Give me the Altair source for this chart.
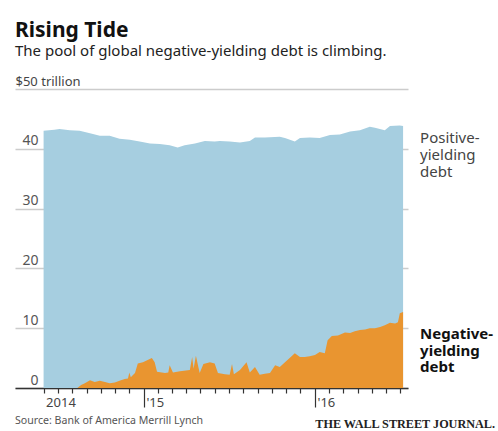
import altair as alt
import pandas as pd

# ---- data (trillions of dollars) ----
total_dates = ["2014-06-01", "2014-06-24", "2014-07-05", "2014-07-27", "2014-08-17",
               "2014-09-08", "2014-09-29", "2014-10-20", "2014-11-10", "2014-12-02",
               "2014-12-23", "2015-01-14", "2015-02-04", "2015-02-25", "2015-03-14",
               "2015-03-29", "2015-04-20", "2015-05-11", "2015-06-01", "2015-06-12",
               "2015-07-03", "2015-07-25", "2015-08-15", "2015-08-26", "2015-09-16",
               "2015-10-18", "2015-10-29", "2015-11-19", "2015-11-30", "2015-12-21",
               "2016-01-11", "2016-02-02", "2016-02-23", "2016-03-16", "2016-04-06",
               "2016-04-27", "2016-05-08", "2016-05-29", "2016-06-09", "2016-06-30",
               "2016-07-07"]
total_values = [43.0, 43.2, 43.3, 43.1, 43.0,
                42.6, 42.2, 42.2, 41.7, 41.5,
                41.2, 40.9, 40.8, 40.6, 40.2,
                40.6, 40.9, 41.3, 41.2, 41.3,
                41.2, 41.05, 41.3, 41.9, 41.9,
                42.0, 41.8, 41.2, 41.8, 41.9,
                41.8, 42.3, 42.4, 42.9, 43.1,
                43.7, 43.5, 43.1, 43.8, 43.9,
                43.8]

neg_dates = ["2014-06-01", "2014-08-12", "2014-08-20", "2014-08-28", "2014-09-08",
             "2014-09-18", "2014-09-29", "2014-10-10", "2014-10-20", "2014-10-31",
             "2014-11-10", "2014-11-21", "2014-11-28", "2014-12-01", "2014-12-04",
             "2014-12-13", "2014-12-19", "2014-12-30", "2015-01-09", "2015-01-18",
             "2015-01-24", "2015-01-29", "2015-02-15", "2015-02-22", "2015-02-25",
             "2015-03-04", "2015-03-19", "2015-04-09", "2015-04-14", "2015-04-17",
             "2015-04-22", "2015-04-30", "2015-05-08", "2015-05-22", "2015-06-01",
             "2015-06-08", "2015-06-23", "2015-07-03", "2015-07-08", "2015-07-12",
             "2015-07-25", "2015-08-08", "2015-08-15", "2015-08-26", "2015-09-05",
             "2015-09-16", "2015-09-27", "2015-10-08", "2015-10-18", "2015-10-29",
             "2015-11-08", "2015-11-19", "2015-11-30", "2015-12-10", "2015-12-21",
             "2016-01-01", "2016-01-11", "2016-01-22", "2016-01-28", "2016-02-06",
             "2016-02-19", "2016-03-05", "2016-03-16", "2016-03-26", "2016-04-06",
             "2016-04-17", "2016-04-27", "2016-05-08", "2016-05-19", "2016-05-29",
             "2016-06-09", "2016-06-20", "2016-06-26", "2016-06-30", "2016-07-07"]
neg_values = [0.0, 0.0, 0.5, 0.8, 1.3,
              1.0, 1.2, 1.0, 0.8, 0.9,
              1.2, 1.5, 1.6, 2.6, 1.8,
              2.5, 4.1, 4.3, 4.7, 5.0,
              4.3, 2.7, 2.5, 2.6, 3.8,
              2.6, 2.8, 3.0, 5.2, 3.2,
              5.4, 2.5, 4.0, 4.3, 4.1,
              2.5, 2.3, 2.2, 4.0, 2.3,
              3.0, 4.3, 2.6, 3.5, 2.2,
              2.4, 2.5, 3.8, 3.5, 4.3,
              5.0, 5.8, 5.2, 5.2, 5.3,
              5.5, 6.0, 5.8, 8.0, 8.7,
              8.8, 9.3, 9.2, 9.5, 9.7,
              9.8, 10.0, 10.0, 10.2, 10.5,
              10.9, 10.8, 11.0, 12.5, 12.7]

series_labels = ["Positive-\nyielding\ndebt", "Negative-\nyielding\ndebt"]
y_tick_values = [0, 10, 20, 30, 40, 50]
y_unit_label = "$50 trillion"
title_text = "Rising Tide"
subtitle_text = "The pool of global negative-yielding debt is climbing."
source_text = "Source: Bank of America Merrill Lynch"
brand_text = "THE WALL STREET JOURNAL."

# monthly ticks from June 2014 to July 2016
month_ticks = [alt.DateTime(year=y, month=m, date=1)
               for y, m in [(2014, mm) for mm in range(6, 13)]
               + [(2015, mm) for mm in range(1, 13)]
               + [(2016, mm) for mm in range(1, 8)]]

total_df = pd.DataFrame({"date": total_dates, "value": total_values})
neg_df = pd.DataFrame({"date": neg_dates, "value": neg_values})
pos_lab_df = pd.DataFrame({"date": [total_dates[-1]], "value": [total_values[-1]],
                           "label": [series_labels[0]]})
neg_lab_df = pd.DataFrame({"date": [neg_dates[-1]], "value": [neg_values[-1]],
                           "label": [series_labels[1]]})
src_df = pd.DataFrame({"t": [source_text]})
brand_df = pd.DataFrame({"t": [brand_text]})

FONT = "Noto Sans"
BLUE = "#a6cee0"
ORANGE = "#e99530"

x_enc = alt.X(
    "date:T",
    scale=alt.Scale(domain=[alt.DateTime(year=2014, month=4, date=1),
                            alt.DateTime(year=2016, month=7, date=17, hours=12)]),
    axis=alt.Axis(
        title=None,
        values=month_ticks,
        grid=False,
        domainColor="#333333",
        domainWidth=1.5,
        tickColor="#333333",
        tickWidth=1.2,
        tickSize={"condition": {"test": "month(datum.value) == 0", "value": 19}, "value": 5},
        labelPadding={"condition": {"test": "month(datum.value) == 0", "value": -11}, "value": 3},
        labelExpr="month(datum.value) == 0 ? \"'\" + timeFormat(datum.value, '%y') : "
                  "((month(datum.value) == 5 && year(datum.value) == 2014) ? '2014' : '')",
        labelAlign="left",
        labelBaseline="top",
        labelOffset=2,
        labelFont=FONT,
        labelFontSize=13,
        labelColor="#444444",
        labelOverlap=False,
        labelBound=False,
        labelFlush=False,
    ),
)

y_enc = alt.Y(
    "value:Q",
    scale=alt.Scale(domain=[0, 50], nice=False, zero=True),
    axis=alt.Axis(
        values=y_tick_values,
        title=y_unit_label,
        titleAngle=0,
        titleAlign="left",
        titleBaseline="alphabetic",
        titleX=0,
        titleY=-4,
        titleFont=FONT,
        titleFontSize=13,
        titleFontWeight="normal",
        titleColor="#444444",
        labelExpr="datum.value == 50 ? '' : datum.label",
        grid=True,
        gridColor="#cccccc",
        gridWidth=1.5,
        domain=False,
        ticks=False,
        tickSize=0,
        labelAlign="right",
        labelBaseline="alphabetic",
        labelPadding=-23,
        labelOffset=-4,
        labelFont=FONT,
        labelFontSize=14,
        labelColor="#555555",
    ),
)

total_area = alt.Chart(total_df).mark_area(color=BLUE, opacity=1).encode(x=x_enc, y=y_enc)
neg_area = alt.Chart(neg_df).mark_area(color=ORANGE, opacity=1).encode(x=x_enc, y=y_enc)

pos_text = alt.Chart(pos_lab_df).mark_text(
    align="left", baseline="alphabetic", dx=17, dy=17, lineBreak="\n", lineHeight=17,
    font=FONT, fontSize=15, color="#444444"
).encode(x=x_enc, y=y_enc, text="label:N")

neg_text = alt.Chart(neg_lab_df).mark_text(
    align="left", baseline="alphabetic", dx=17, dy=27, lineBreak="\n", lineHeight=16.5,
    font=FONT, fontSize=15, fontWeight="bold", color="#111111"
).encode(x=x_enc, y=y_enc, text="label:N")

src = alt.Chart(src_df).mark_text(
    align="left", baseline="alphabetic", font=FONT, fontSize=10.6, color="#555555"
).encode(x=alt.value(0), y=alt.value(335), text="t:N")

brand = alt.Chart(brand_df).mark_text(
    align="right", baseline="alphabetic", font="Liberation Serif", fontSize=12.2,
    fontWeight="bold", color="#222222"
).encode(x=alt.value(480), y=alt.value(339), text="t:N")

chart = alt.layer(total_area, neg_area, pos_text, neg_text, src, brand).properties(
    width=393,
    height=299,
    autosize=alt.AutoSizeParams(type="none"),
    padding={"left": 15, "top": 89, "right": 90, "bottom": 43},
    title=alt.TitleParams(
        text=title_text,
        subtitle=subtitle_text,
        anchor="start",
        font=FONT,
        fontSize=21,
        fontWeight="bold",
        color="#111111",
        subtitleFont=FONT,
        subtitleFontSize=15,
        subtitleColor="#222222",
        subtitlePadding=3,
        offset=16,
    ),
).configure_view(stroke=None)

chart.save("out.html", embed_options={"renderer": "svg", "actions": False})
